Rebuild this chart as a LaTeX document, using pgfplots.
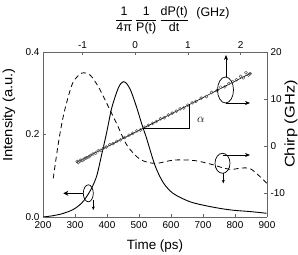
\documentclass[border=0pt]{standalone}
\usepackage{pgfplots}
\pgfplotsset{compat=1.18}
\usepackage{fontspec}
\setmainfont{Liberation Sans}
\usetikzlibrary{arrows.meta}
\begin{document}
\begin{tikzpicture}
\pgfplotsset{
  base/.style={
    scale only axis, width=224bp, height=165bp, at={(0,0)}, anchor=south west,
    axis line style={black!60, line width=0.6pt},
    tick style={black!60, line width=0.6pt},
    tick align=inside, major tick length=3bp,
    ticklabel style={font=\fontsize{10}{12}\selectfont},
    /pgf/number format/assume math mode=true,
  }
}
\begin{axis}[base, xmin=200, xmax=900, ymin=0, ymax=0.4,
  axis x line*=bottom, axis y line*=left,
  xtick={200,300,...,900}, ytick={0,0.2,0.4},
  yticklabel style={/pgf/number format/.cd, fixed, fixed zerofill, precision=1},
  xticklabel style={yshift=-1.5bp, /pgf/number format/.cd, 1000 sep={}},
]
\addplot[black, line width=0.9pt, smooth] coordinates {
(200,0.000) (230,0.003) (260,0.008) (294,0.018) (320,0.033) (336,0.049)
(352,0.070) (368,0.100) (383,0.150) (399,0.205) (414,0.262) (430,0.302)
(440,0.320) (451,0.328) (462,0.323) (475,0.305) (493,0.265) (510,0.222)
(524,0.190) (550,0.125) (576,0.083) (607,0.057) (659,0.037) (711,0.027)
(760,0.020) (800,0.016) (850,0.013) (899,0.009)
};
\end{axis}
\begin{axis}[base, xmin=-1.75, xmax=2.5, ymin=-15.1, ymax=20,
  axis x line*=top, axis y line*=right,
  xtick={-1,0,1,2}, ytick={-10,0,10,20},
]
\addplot[black, line width=0.6pt] coordinates {(-1.12,-3.5) (2.2,15.55)};
\addplot[only marks, mark=o, mark size=1.5pt, black!65, mark options={line width=0.5pt}] coordinates {
(-1.10,-3.3) (-1.08,-3.5) (-1.05,-3.2) (-1.03,-3.0) (-1.00,-3.1) (-0.97,-2.8)
(-0.95,-2.6) (-0.92,-2.5) (-0.88,-2.3) (-0.85,-2.0) (-0.80,-1.7) (-0.75,-1.5)
(-0.70,-1.0) (-0.65,-0.9) (-0.60,-0.4) (-0.55,-0.2) (-0.48,0.3) (-0.42,0.5)
(-0.35,1.0) (-0.28,1.3) (-0.20,1.8) (-0.12,2.3) (-0.05,2.7) (0.03,3.2)
(0.10,3.4) (0.18,4.0) (0.25,4.4) (0.33,4.8) (0.40,5.2) (0.48,5.8)
(0.55,6.0) (0.63,6.6) (0.70,7.0) (0.78,7.4) (0.85,7.9) (0.92,8.1)
(1.00,8.7) (1.08,9.2) (1.15,9.5) (1.25,10.2) (1.35,10.5) (1.45,11.4)
(1.55,11.8) (1.62,12.5) (1.70,12.6) (1.78,13.3) (1.85,13.7) (1.92,14.1)
(2.00,14.8) (2.05,14.5) (2.10,15.6) (2.15,15.1) (2.18,15.4)
};
\end{axis}
\begin{axis}[base, hide axis, xmin=200, xmax=900, ymin=-15.1, ymax=20]
\addplot[black, line width=0.8pt, smooth, dash pattern=on 5bp off 3.5bp] coordinates {
(232,-6.9) (248,0.6) (263,6.2) (279,10.5) (295,13.7) (321,15.5) (347,15.1)
(373,12.6) (399,9.1) (430,4.8) (462,0.2) (503,-2.8) (550,-3.7) (607,-3.0)
(659,-3.0) (691,-3.3) (732,-4.0) (760,-4.6) (790,-5.0) (816,-4.7) (847,-4.8)
(878,-6.5) (899,-7.9)
};
\end{axis}
% annotations
\begin{scope}[line width=0.7pt]
\draw (182.5bp,127bp) ellipse [x radius=8bp, y radius=13bp];
\draw[-{Stealth[length=5bp,width=4bp]}] (183bp,140bp) -- (183bp,162bp);
\draw[-{Stealth[length=5bp,width=4bp]}] (183bp,114bp) -- (207bp,114bp);
\draw (179.5bp,53.7bp) ellipse [x radius=7.5bp, y radius=10bp];
\draw[-{Stealth[length=5bp,width=4bp]}] (180bp,62bp) -- (207bp,62bp);
\draw[-{Stealth[length=3.5bp,width=3bp]}] (180.3bp,43.7bp) -- (180.3bp,33.7bp);
\draw (45.3bp,23.7bp) ellipse [x radius=5bp, y radius=8.5bp];
\draw[line width=1.3pt, -{Stealth[length=5bp,width=5bp]}] (40.3bp,23.7bp) -- (20.3bp,23.7bp);
\draw[-{Stealth[length=3.5bp,width=3bp]}] (50.3bp,17bp) -- (50.3bp,7bp);
\draw[line width=0.6pt] (100bp,88.7bp) -- (146.3bp,88.7bp) -- (146.3bp,113bp);
\end{scope}
\node[font=\fontsize{12}{14}\selectfont] at (158bp,97bp) {$\alpha$};
% labels
\node[font=\fontsize{13.5}{15}\selectfont] at (112bp,-29bp) {Time (ps)};
\node[rotate=90, font=\fontsize{13.5}{15}\selectfont] at (-34bp,102bp) {\scalebox{1.1}[1]{Intensity (a.u.)}};
\node[rotate=90, font=\fontsize{14}{16}\selectfont] at (248bp,93bp) {\scalebox{1.18}[1]{Chirp (GHz)}};
\node[font=\fontsize{12.5}{14}\selectfont] at (109bp,197bp) {$\displaystyle\frac{\mbox{1}}{\mbox{4π}}\,\frac{\mbox{1}}{\mbox{P(t)}}\,\frac{\mbox{dP(t)}}{\mbox{dt}}$};
\node[font=\fontsize{12.5}{14}\selectfont] at (170bp,204bp) {(GHz)};
\pgfresetboundingbox
\useasboundingbox (-43bp,-38bp) rectangle (255bp,217bp);
\end{tikzpicture}
\end{document}
